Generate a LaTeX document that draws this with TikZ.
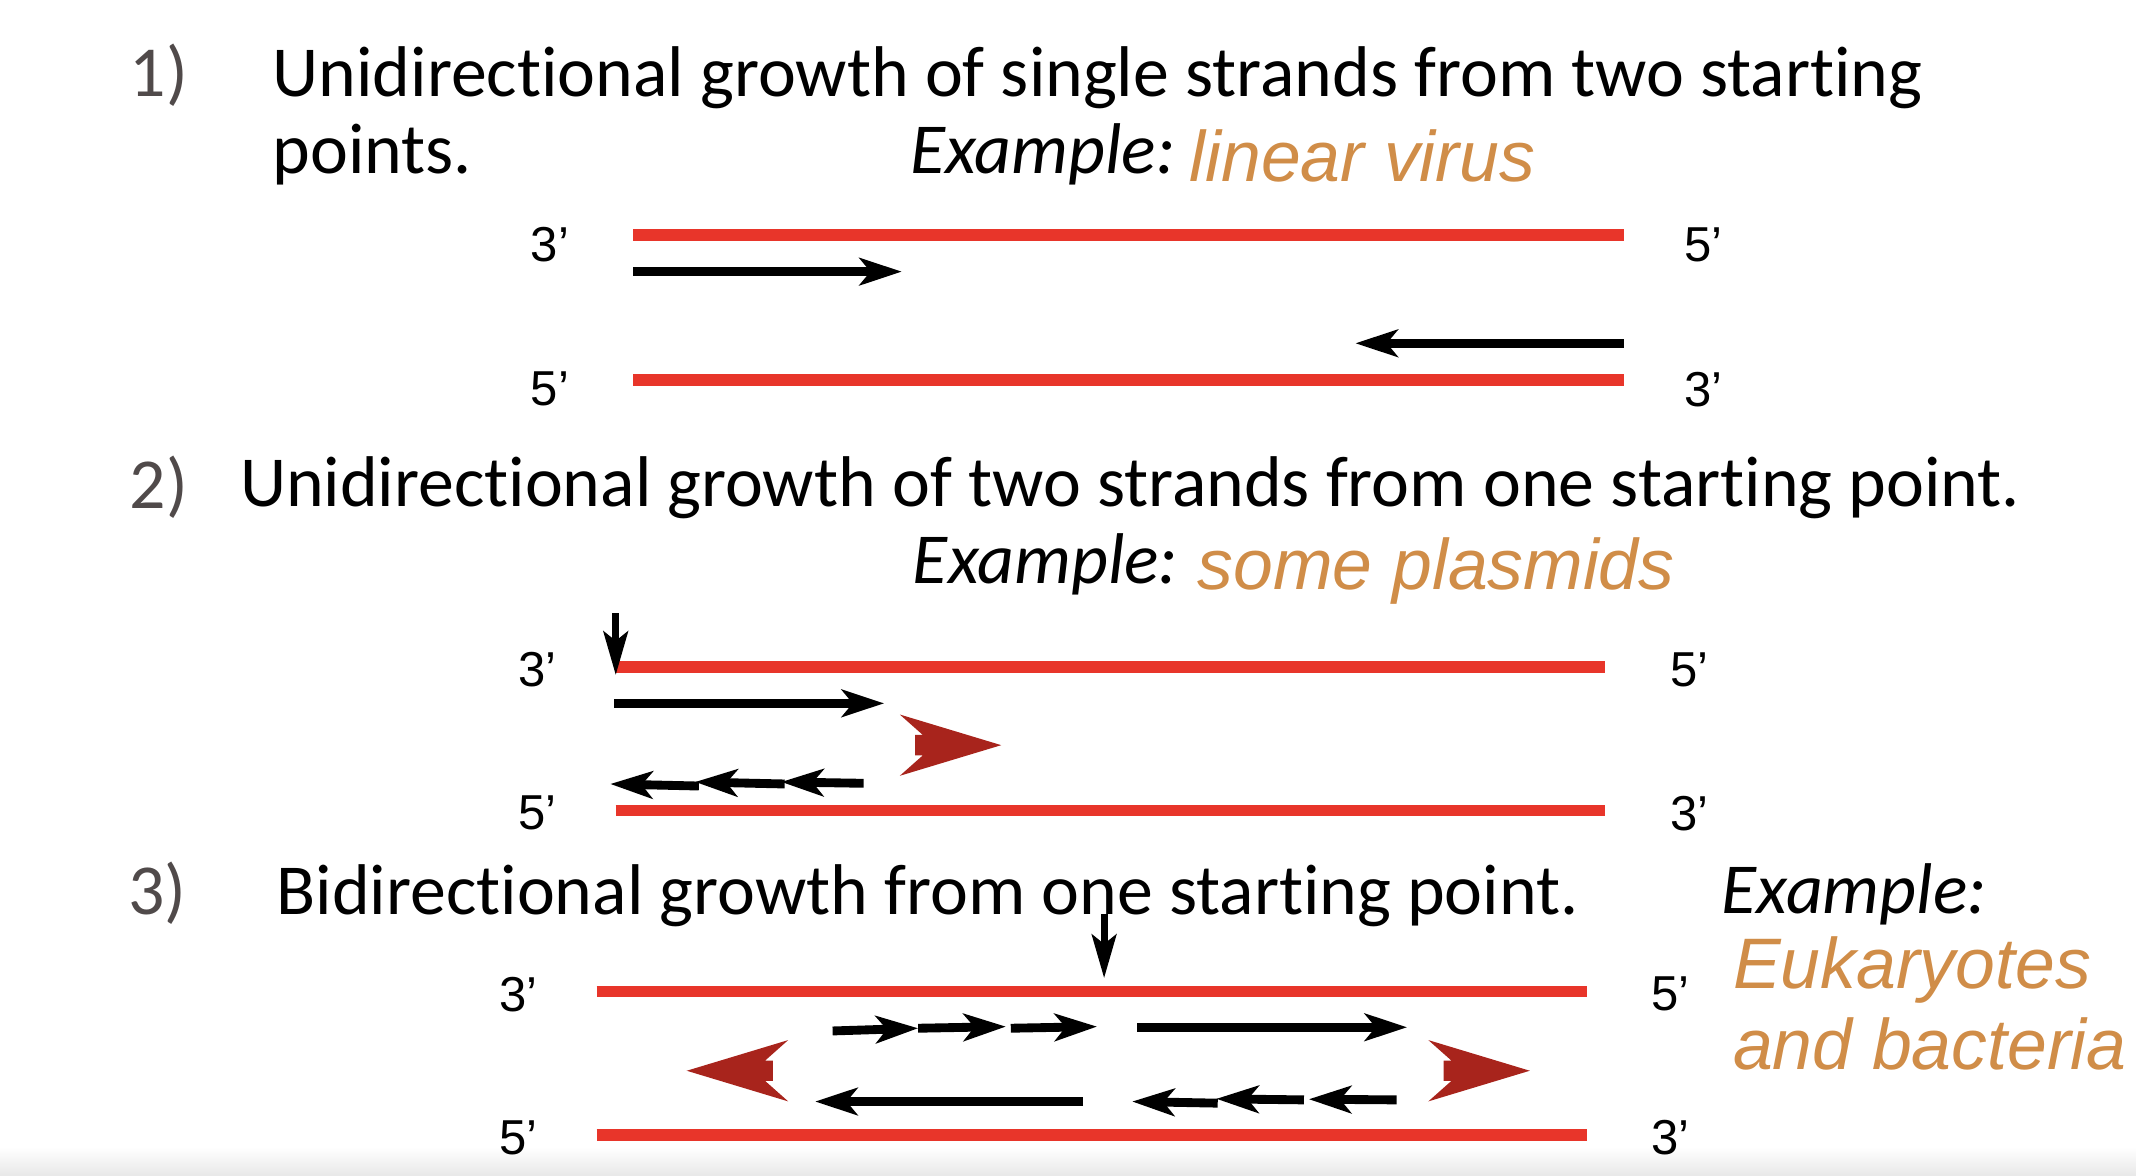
\documentclass[tikz,border=0pt]{standalone}
\usepackage{fontspec}
\setmainfont{Carlito}[Ligatures=NoCommon]
\newfontfamily\arialfont{Liberation Sans}
\usetikzlibrary{arrows.meta,positioning}
\definecolor{strandred}{RGB}{232,53,42}
\definecolor{forkred}{RGB}{168,36,28}
\definecolor{exorange}{RGB}{208,141,72}
\definecolor{numgray}{RGB}{80,74,74}
\tikzset{
  head/.style={font=\fontsize{52.7}{60}\selectfont, inner sep=0pt, anchor=base west},
  num/.style={head, text=numgray},
  exlabel/.style={head, font=\fontsize{52.7}{60}\selectfont\itshape},
  exname/.style={inner sep=0pt, anchor=base west, text=exorange, font=\arialfont\fontsize{52.5}{60}\selectfont\itshape},
  lbl/.style={inner sep=0pt, font=\arialfont\fontsize{36}{40}\selectfont},
  strand/.style={draw=strandred, line width=8.6pt},
  prim/.style={line width=6.5pt, -{Stealth[length=31pt,width=20pt,inset=8pt]}},
  nick/.style={line width=5pt, -{Stealth[length=32pt,width=18pt,inset=7pt]}},
  fork/.pic={\fill[forkred] (0,0) -- (-74.5,-22.5) -- (-57.6,-7.5) -- (-63.2,-7.5)
      -- (-63.2,7.5) -- (-57.6,7.5) -- (-74.5,22.5) -- cycle;}
}
\begin{document}
\begin{tikzpicture}[x=1pt, y=-1pt]
			%%%%% START %%%%%
			\useasboundingbox (0,0) rectangle (1568,863);
			\shade[top color=white, bottom color=black!9] (0,842) rectangle (1568,863);
			
			%% 1) two starting points
			\node[num] (n1) at (95,70.5) {1)};
			\node[head] (t1) at (200,70.5) {Unidirectional growth of single strands from two starting};
			\node[head] (t1b) at (200,127) {points.};
			\node[exlabel] (ex1) at (668,127) {Example:};
			\node[exname] (v1) at (873,133) {linear virus};
			
			\coordinate (s1a) at (465,172.6);
			\coordinate (s1b) at (1192,172.6);
			\coordinate (s1c) at (465,278.8);
			\coordinate (s1d) at (1192,278.8);
			\draw[strand] (s1a) -- (s1b);
			\draw[strand] (s1c) -- (s1d);
			\node[lbl, left=47pt of s1a, yshift=-7pt] (l1a) {3’};
			\node[lbl, right=44pt of s1b, yshift=-7pt] (l1b) {5’};
			\node[lbl, left=47pt of s1c, yshift=-7pt] (l1c) {5’};
			\node[lbl, right=44pt of s1d, yshift=-7pt] (l1d) {3’};
			
			\draw[prim] (465,199.4) -- (662,199.4);
			\draw[prim] (1192,252) -- (995,252);
			
			%% 2) one starting point, one direction
			\node[num] (n2) at (95,373) {2)};
			\node[head] (t2) at (176,372) {Unidirectional growth of two strands from one starting point.};
			\node[exlabel] (ex2) at (670,428.5) {Example:};
			\node[exname] (v2) at (879,433) {some plasmids};
			
			\coordinate (s2a) at (452,489.8);
			\coordinate (s2b) at (1178,489.8);
			\coordinate (s2c) at (452,595);
			\coordinate (s2d) at (1178,595);
			\draw[strand] (s2a) -- (s2b);
			\draw[strand] (s2c) -- (s2d);
			\node[lbl, left=43pt of s2a, yshift=-2pt] (l2a) {3’};
			\node[lbl, right=48pt of s2b, yshift=-2pt] (l2b) {5’};
			\node[lbl, left=43pt of s2c, yshift=-2pt] (l2c) {5’};
			\node[lbl, right=48pt of s2d, yshift=-2pt] (l2d) {3’};
			
			\draw[nick] (452,450) -- (452,495.5);
			\draw[prim] (451,516.3) -- (649,516.3);
			\draw[prim] (634,575) -- (573.5,574);
			\draw[prim] (576,575.5) -- (510.3,574);
			\draw[prim] (513,577) -- (448,575.5);
			\pic at (735,547) {fork};
			
			%% 3) bidirectional
			\node[num] (n3) at (94,671.6) {3)};
			\node[head] (t3) at (203,671.6) {Bidirectional growth from one starting point.};
			\node[exlabel] (ex3) at (1263.5,670.4) {Example:};
			\node[exname] (v3) at (1272,725.4) {Eukaryotes};
			\node[exname] (v3b) at (1272,785.4) {and bacteria};
			
			\coordinate (s3a) at (438,727.8);
			\coordinate (s3b) at (1165,727.8);
			\coordinate (s3c) at (438,833.2);
			\coordinate (s3d) at (1165,833.2);
			\draw[strand] (s3a) -- (s3b);
			\draw[strand] (s3c) -- (s3d);
			\node[lbl, left=43pt of s3a, yshift=-2pt] (l3a) {3’};
			\node[lbl, right=47pt of s3b, yshift=-2pt] (l3b) {5’};
			\node[lbl, left=43pt of s3c, yshift=-2pt] (l3c) {5’};
			\node[lbl, right=47pt of s3d, yshift=-2pt] (l3d) {3’};
			
			\draw[nick] (810.5,671) -- (810.5,718);
			\draw[prim] (611.2,756.8) -- (674,754.8);
			\draw[prim] (674,754.8) -- (738.4,753.6);
			\draw[prim] (742,754.8) -- (805.3,753.6);
			\draw[prim] (834.7,754.1) -- (1032.9,754.1);
			\draw[prim] (795,808.6) -- (598.4,808.6);
			\draw[prim] (1025.2,807.4) -- (960.8,806.9);
			\draw[prim] (957.2,807.4) -- (892.9,806.6);
			\draw[prim] (893.9,809.8) -- (831.1,808.6);
			\pic[xscale=-1] at (504.1,786) {fork};
			\pic at (1123,786) {fork};
			%%%%% END %%%%%
\end{tikzpicture}
\end{document}
